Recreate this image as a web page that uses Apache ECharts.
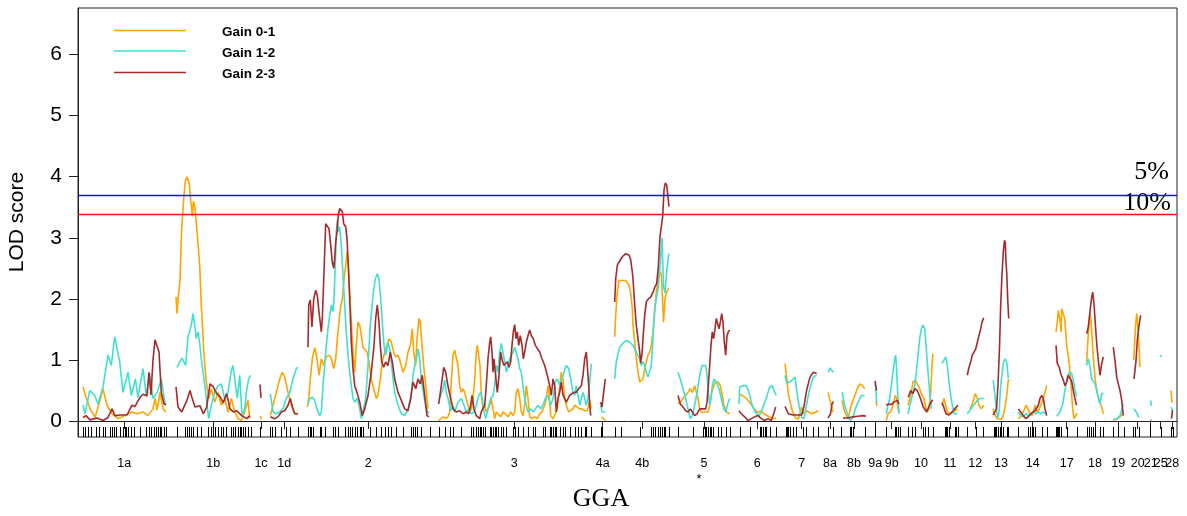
<!DOCTYPE html>
<html>
<head>
<meta charset="utf-8">
<script src="https://cdn.jsdelivr.net/npm/echarts@6/dist/echarts.min.js"></script>
<style>
  html, body { margin: 0; padding: 0; background: #fff; }
  #chart { width: 1187px; height: 516px; }
</style>
</head>
<body>
<div id="chart"></div>
<script>
// Chromosome labels (GGA) and their mid positions on the genome-wide axis
const chromNames = ['1a','1b','1c','1d','2','3','4a','4b','5','6','7','8a','8b','9a','9b','10','11','12','13','14','17','18','19','20','21','25','28'];
const chromPos = [46.3,135.3,183,206.3,290.3,436.3,524.7,564.3,626,679.3,723.7,752,776,797.3,813.7,843,872,897.3,923,954.7,988.7,1017,1040.3,1059.7,1072.7,1082.7,1094.3];
const X_MAX = 1099;

// LOD axis ticks
const lodTicks = [0, 1, 2, 3, 4, 5, 6];

// Genome-wide significance thresholds
const thresholdValues = [3.70, 3.39];
const thresholdNames = ['5%', '10%'];

// Marker positions (rug)
const markerPos = [5,7.3,10,12.7,18.3,20.7,25,27.3,32.3,34.3,35.7,38.3,41.7,45,46.7,48.3,50,53.3,56,61.7,68.3,70.7,73.3,76,78.3,80,82,83.3,86,88.3,
99,107.3,109.3,111,113.3,115,119.3,122.7,130,132.7,135,136.7,140,142.7,145,148.3,152.7,155,156.7,160,161.7,163.3,165,166.7,170,172.7,
181.7,
192.3,194.3,196.7,203.3,207.7,211.7,220,
230,231.7,233.3,235,241.7,243.3,246.7,255,256.7,260,266.7,270,272.3,274.3,276.7,279,281.7,283.3,285,292.3,298.3,303.3,306.7,310,313.3,318.3,325,333.3,335,336.7,339,343.3,351.7,
360.7,366.7,371.7,375,383.3,393.3,395,398.3,400,401.7,403.3,405,406.7,411.7,413.3,415,416.7,418.3,420,423.3,425,428.3,435,436.7,440,445,450,455,457.3,465,466.7,471.7,473.3,475,476.7,478.3,481.7,485,486.7,491.7,496.7,500,503.3,506.7,508.3,513.3,
522.7,524,
536.7,543.3,561.7,573.3,575,576.7,580,581.7,584.3,585.7,586.7,591,
600,615,625,626.7,628.3,630,631.7,633.3,635,640,643.3,648.3,651.7,
661.7,671.7,681.7,683.3,685,686.7,688.3,691.7,697.7,
707.7,709,710,711.7,715,718.3,725,728.3,735,740,
750,755,763.3,771.7,773.3,775,787.3,797.3,
808.3,816.7,818.3,820,821.7,
830,834,836.7,845,846.7,850,855,
866.7,868.3,869.3,870.7,876.7,878.3,880,
889.3,898.3,905,
916,917.3,918.3,920,921.7,923.3,925.3,928.7,930.3,
940.3,950.3,952,953.7,954.7,957,963.7,968.7,
978,979.3,980.3,981.3,982.7,988.7,999.3,
1009.3,1011.3,1012.7,1014.7,1017,1022,1025.3,
1034.7,1040.3,1046,
1055.3,1057,1061.3,
1072,1082.7,1092.7,1094.7];

// LOD profiles, one segment per chromosome: [position, LOD]
const gain01 = [
 [[5,0.56],[8,0.39],[12,0.2],[17,0.06],[22,0.34],[25,0.53],[29,0.26],[34,0.12],[40,0.04],[47,0.09],[54,0.15],[59,0.12],[65,0.15],[70,0.09],[75,0.2],[77,0.37],[79,0.18],[82,0.47],[85,0.2],[88,0.15]],
 [[98,2.03],[99,1.76],[100,2.0],[102,2.3],[103.5,3.1],[106,3.7],[107.3,3.92],[108.7,4.0],[110,3.97],[111.3,3.89],[112.7,3.59],[113.5,3.52],[114.3,3.35],[115.5,3.6],[116.7,3.52],[118,3.3],[119.5,3.0],[121.7,2.55],[123.3,1.9],[126,1.08],[128.3,0.64],[130.7,0.37],[133.3,0.53],[136.7,0.31],[140,0.47],[143.3,0.26],[146.7,0.37],[150,0.15],[153.3,0.37],[156.7,0.15],[160,0.04],[163.3,0.01],[166.7,0.15],[170,0.34],[171.7,0.04]],
 [[182.5,0.08],[183,0.03]],
 [[192.3,0.09],[195,0.26],[198.3,0.47],[201.7,0.69],[204.3,0.8],[206.7,0.72],[210,0.47],[213.3,0.26],[216.7,0.12],[220,0.12]],
 [[229.3,0.23],[230.7,0.37],[232.3,0.69],[234.3,1.02],[236.7,1.2],[239,1.02],[241,0.75],[243.3,1.02],[245.7,0.91],[248.3,1.05],[251,1.08],[253.3,1.02],[255.7,0.86],[257.7,1.02],[260,1.46],[262.3,1.84],[264.3,2.0],[266,2.33],[267.7,2.55],[269,2.77],[270.3,2.55],[271.7,2.11],[273.3,1.62],[275,1.13],[276.7,0.8],[278.3,1.24],[280,1.62],[281.7,1.57],[283.3,1.4],[285,1.21],[286.7,1.24],[289,1.13],[291,0.97],[293.3,0.69],[295.7,0.53],[298.3,0.37],[300,0.42],[302.3,0.69],[304.3,0.97],[306.7,1.13],[309,1.24],[311,1.35],[313.3,1.29],[315.7,1.13],[317.7,1.05],[320,1.08],[322.3,0.97],[325,0.8],[327.7,0.91],[330,1.13],[332.3,1.24],[334.3,1.51],[335.7,1.13],[337.7,0.91],[339,1.35],[341,1.68],[342.3,1.62],[344,1.24],[345.7,0.91],[347.7,0.58],[350,0.2]],
 [[360.7,0.01],[365,0.07],[367.7,0.04],[370,0.07],[371.7,0.15],[373.3,0.64],[375,1.08],[376.7,1.16],[378.3,1.13],[380,0.91],[381.7,0.58],[383.3,0.47],[385,0.53],[386.7,0.47],[388.3,0.37],[390,0.26],[391.7,0.15],[393.3,0.2],[395,0.37],[396.7,0.69],[398.3,1.13],[399.3,1.24],[400.7,1.21],[402,0.91],[403.3,0.42],[405,0.2],[406.7,0.26],[408.3,0.15],[410,0.12],[411.7,0.26],[413.3,0.37],[415,0.2],[416.7,0.04],[418.3,0.15],[420,0.12],[422.7,0.07],[425,0.15],[427.3,0.12],[430,0.07],[432.7,0.15],[435,0.09],[436.7,0.15],[438.3,0.47],[440,0.53],[441.7,0.37],[443.3,0.15],[445,0.09],[446.7,0.26],[448.3,0.58],[450,0.37],[451.7,0.07],[454,0.04],[456.7,0.07],[459.3,0.04],[461.7,0.12],[464,0.15],[466.7,0.26],[468.3,0.37],[470,0.58],[471,0.47],[472.7,0.09],[475,0.04],[477.3,0.12],[479.3,0.2],[481.7,0.58],[483.3,0.8],[485,0.69],[486.7,0.37],[488.3,0.26],[490.7,0.15],[492.7,0.12],[495,0.2],[496.7,0.26],[499.3,0.23],[501.7,0.2],[504,0.2],[506.7,0.17],[509.3,0.17],[511.7,0.34],[513.3,0.2]],
 [[523.5,0.07],[525.5,0.04],[527.5,0.01]],
 [[536.7,1.38],[537.7,1.73],[539.3,2.11],[541,2.3],[542.7,2.33],[544.3,2.3],[546,2.3],[547.7,2.3],[549.3,2.28],[551,2.22],[552.7,2.09],[554.3,1.84],[555,1.57],[556.7,1.3],[558.3,1.02],[560,0.8],[561.7,0.64],[563.3,0.61],[565,0.69],[566.7,0.86],[568.3,0.97],[570,1.08],[571.7,1.13],[573.3,1.24],[575,1.46],[576.7,1.79],[578.3,2.11],[580,2.3],[581.7,2.45],[583.3,2.4],[584.5,2.0],[585.5,1.62],[587,2.0],[588.3,2.1],[589.7,2.15],[591,2.17]],
 [[600,0.28],[602.3,0.31],[605,0.37],[607.7,0.42],[610,0.47],[612.3,0.53],[614.3,0.47],[616.7,0.58],[618.3,0.58],[620,0.37],[621.7,0.2],[623.3,0.15],[625,0.12],[626.7,0.15],[628.3,0.12],[630,0.15],[631.7,0.26],[633.7,0.47],[635.7,0.58],[637.7,0.64],[640,0.64],[642.3,0.58],[644.3,0.42],[646,0.26],[648.3,0.15],[651.7,0.12]],
 [[661,0.45],[664,0.42],[668,0.38],[672,0.3],[676,0.2],[680,0.14],[683,0.16],[686,0.12],[690,0.08],[694,0.05],[698,0.04]],
 [[707,0.94],[708.7,0.72],[710.3,0.45],[713.7,0.2],[717,0.06],[720.3,0.03],[723.7,0.23],[726,0.12],[728.7,0.17],[733.7,0.12],[737,0.14],[740.3,0.17]],
 [[750,0.47],[751.7,0.36],[753.3,0.26],[755,0.15]],
 [[764,0.34],[766.7,0.15],[770,0.04],[773.3,0.26],[776.7,0.42],[779.3,0.53],[781.7,0.61],[784.3,0.58],[786.7,0.53]],
 [[798,0.32],[799,0.25]],
 [[808.3,0.01],[810,0.12],[812.7,0.15],[815,0.26],[817.3,0.42],[818.7,0.37],[820,0.2],[821,0.15]],
 [[830,0.26],[832.7,0.42],[835,0.64],[837.3,0.67],[839.3,0.61],[841.7,0.53],[844,0.42],[846,0.37],[847.3,0.26],[849.3,0.15],[851,0.2],[852.7,0.47],[854,0.91],[855,1.1]],
 [[864,0.26],[866,0.37],[867.7,0.26],[869.3,0.15],[871.7,0.12],[874,0.15],[876.7,0.17],[879.3,0.2]],
 [[891.7,0.2],[894,0.26],[896,0.37],[897.3,0.45],[898.3,0.47],[899.3,0.37],[901,0.26],[903.3,0.2],[905.7,0.26]],
 [[915,0.2],[917,0.1],[919,0.04],[921,0.02],[923,0.03],[925,0.08],[927,0.22],[929,0.45],[930.3,0.68],[931,0.65]],
 [[940.3,0.04],[942.7,0.07],[945.3,0.15],[948,0.26],[949.7,0.28],[951.3,0.15],[953.7,0.09],[955.3,0.15],[957,0.26],[958.7,0.15],[961.3,0.2],[963.7,0.31],[965.3,0.37],[967,0.47],[968.7,0.58]],
 [[978,1.46],[979.3,1.62],[980.3,1.81],[981.3,1.84],[982.3,1.62],[983,1.46],[983.7,1.84],[984.7,1.87],[985.7,1.84],[986.7,1.68],[987.7,1.46],[988.7,1.24],[989.7,1.13],[990.7,1.02],[991.7,0.86],[992.7,0.69],[993.7,0.42],[994.7,0.2],[996,0.04],[997.3,0.04],[998.7,0.12],[999.7,0.12]],
 [[1008.7,0.97],[1010.3,1.43],[1012,1.76],[1013,1.65],[1014,1.37],[1015.3,1.05],[1017,0.72],[1018.7,0.5],[1020.3,0.39],[1022,0.31],[1023.7,0.23],[1025.3,0.12]],
 [[1035,0.02],[1038.7,0.03],[1042,0.07],[1044.7,0.12]],
 [[1055.7,1.0],[1056.7,1.3],[1057.7,1.6],[1058.7,1.76],[1059.3,1.79],[1060.3,1.45],[1061.3,1.1],[1062,0.88]],
 [[1093,0.5],[1094,0.3]]
];

const gain12 = [
 [[5,0.26],[7,0.12],[11.7,0.5],[16.7,0.42],[20,0.28],[25,0.56],[30,1.08],[33.3,0.91],[36.7,1.38],[39.5,1.15],[41.7,0.97],[45,0.47],[50,0.8],[53.3,0.42],[57.3,0.69],[60,0.39],[65,0.86],[68.3,0.42],[71.7,0.78],[75,0.37],[79.3,0.47],[83.3,0.69],[87.3,0.26]],
 [[99,0.88],[100,0.91],[101.7,0.97],[104,1.03],[106,1.0],[107.7,0.91],[110,1.38],[111.7,1.35],[113.3,1.57],[115,1.76],[116.7,1.57],[118.3,1.35],[120,1.46],[121.7,1.27],[123.3,1.02],[126,0.69],[128.3,0.37],[130.7,0.04],[133.3,0.26],[136.7,0.47],[140,0.58],[143.3,0.61],[146.7,0.37],[150,0.47],[153.3,0.83],[155,0.91],[156.7,0.69],[159.3,0.37],[161.7,0.75],[164,0.09],[166.7,0.2],[168.3,0.47],[170.7,0.69],[172.7,0.75]],
 [[192.3,0.45],[195,0.15],[198.3,0.12],[201.7,0.15],[205,0.2],[208.3,0.37],[211.7,0.47],[215,0.69],[218.3,0.86],[220,0.88]],
 [[230,0.28],[231.7,0.37],[234.3,0.39],[236.7,0.34],[239,0.2],[241.7,0.09],[243.3,0.15],[245,0.58],[246.7,0.91],[248.3,1.24],[250,1.51],[251.7,1.73],[253.3,1.9],[255,1.79],[256,2.0],[257.3,2.55],[258.3,3.1],[259.3,3.29],[260.3,3.1],[261.7,3.18],[263.3,2.88],[265,2.39],[266.7,1.9],[268.3,1.46],[270,1.08],[271.7,0.8],[273.3,0.58],[275,0.37],[276.7,0.31],[279,0.37],[281,0.26],[283.3,0.04],[285,0.07],[287.7,0.37],[290,0.91],[292.3,1.57],[295,2.06],[297.3,2.33],[299.3,2.41],[301,2.33],[302.7,2.0],[304.3,1.62],[306,1.24],[307.7,1.08],[310,1.29],[312.3,1.13],[314.3,0.8],[316.7,0.47],[320,0.26],[323.3,0.12],[326.7,0.09],[330,0.2],[332.7,0.37],[335,0.75],[336.7,0.91],[338.3,1.02],[340,1.18],[341.7,1.02],[343.3,0.69],[345.7,0.42],[348.3,0.2],[351,0.12]],
 [[361.7,0.37],[365,0.53],[366.7,0.67],[368.3,0.47],[370,0.37],[372.7,0.17],[375,0.26],[376.7,0.15],[380,0.31],[383.3,0.37],[386,0.26],[388.3,0.15],[390.7,0.2],[393.3,0.12],[396,0.15],[398.3,0.26],[400.7,0.42],[402.7,0.47],[404.3,0.37],[406,0.15],[407.7,0.04],[409.3,0.07],[411,0.26],[412.7,0.37],[415,0.42],[416.7,0.58],[418.3,0.91],[420,0.8],[421.7,1.13],[423.3,1.27],[425,1.13],[426.7,0.97],[428.3,0.8],[430,0.91],[431.7,1.02],[433.3,1.05],[435,1.13],[436.7,1.21],[438.3,1.24],[440,1.02],[441.7,0.86],[443.3,0.8],[445,0.58],[446.7,0.37],[448.3,0.26],[450,0.15],[452.7,0.2],[455,0.15],[457.3,0.2],[460,0.26],[462.7,0.2],[465,0.26],[467.3,0.37],[470,0.42],[472.7,0.26],[475,0.37],[477.3,0.64],[479.3,0.69],[481.7,0.58],[484,0.69],[486,0.8],[488.3,0.91],[490.7,0.86],[492.7,0.69],[495,0.47],[496.7,0.42],[498.3,0.58],[500,0.42],[501.7,0.26],[503.3,0.37],[505,0.47],[506.7,0.37],[508.3,0.26],[510,0.37],[511.7,0.64],[513.3,0.94]],
 [[522.7,0.26],[524,0.15],[526,0.12],[527.3,0.15]],
 [[536.7,0.69],[538.3,0.97],[540,1.1],[541.7,1.21],[543.3,1.24],[546,1.29],[548.3,1.32],[550,1.32],[551.7,1.29],[553.3,1.27],[555,1.24],[556.7,1.18],[558.3,1.13],[561.7,1.02],[563.3,0.91],[565,0.97],[566.7,0.91],[568.3,0.8],[570,0.72],[571.7,0.75],[573.3,0.91],[575,1.35],[576.7,1.85],[578.3,2.0],[580.3,2.2],[582.3,2.6],[584,3.0],[585.5,2.2],[587,2.1],[588.7,2.45],[590.7,2.74]],
 [[600,0.8],[602.3,0.69],[605,0.53],[607.7,0.37],[610,0.2],[612.3,0.04],[614.3,0.09],[616.7,0.26],[619,0.47],[621.7,0.75],[624,0.91],[626,0.94],[627.7,0.91],[629,0.75],[630.3,0.47],[631.7,0.26],[633,0.37],[634.3,0.58],[636,0.69],[638.3,0.64],[641,0.53],[643.3,0.37],[645.7,0.2],[647.7,0.15],[649.3,0.26],[651.7,0.37]],
 [[661,0.28],[661.7,0.56],[665,0.58],[668.3,0.58],[671,0.47],[673.3,0.31],[675.7,0.2],[678.3,0.12],[681,0.09],[683.3,0.15],[685.7,0.26],[688.3,0.37],[690,0.47],[691.7,0.56],[694.3,0.58],[696.7,0.47],[698.3,0.42]],
 [[707,0.75],[708.7,0.62],[710.3,0.64],[712,0.64],[714,0.66],[717,0.72],[718.7,0.5],[721.3,0.23],[723.7,0.06],[726,0.04],[728.7,0.28],[731.3,0.5],[733.7,0.64],[735.3,0.72],[738.7,0.75]],
 [[750.3,0.8],[752,0.87],[753.7,0.84],[755.3,0.8]],
 [[764,0.47],[766.7,0.26],[770,0.09],[772.3,0.01],[775,0.06],[777.3,0.2],[780,0.31],[783.3,0.42],[786.7,0.42]],
 [[797.3,0.62],[798.7,0.3]],
 [[808.3,0.12],[810,0.26],[811.7,0.37],[813.3,0.58],[815,0.8],[816.7,1.02],[817.7,1.08],[818.7,0.8],[820,0.37],[821,0.12]],
 [[830,0.12],[832.7,0.31],[835,0.47],[836.7,0.58],[838.3,0.8],[840,1.08],[841.7,1.35],[843.3,1.51],[845,1.57],[846.7,1.51],[848.3,1.18],[850,0.8],[851.7,0.47],[853.3,0.2]],
 [[864,0.94],[866,0.97],[867.7,1.05],[869.3,0.91],[871,0.64],[872.7,0.42],[874.3,0.26],[876,0.12],[877.7,0.15],[879.3,0.12]],
 [[889.3,0.12],[891.7,0.17],[894,0.23],[896.7,0.28],[899.3,0.34],[901.7,0.37],[903.3,0.39],[905.7,0.37]],
 [[915.3,0.67],[917,0.4],[918.7,0.15],[920,0.05],[921.3,0.2],[922.5,0.55],[923.7,0.72],[925.3,0.94],[927,1.02],[928.7,0.97],[930.3,0.7]],
 [[940.3,0.15],[942.7,0.09],[945.3,0.07],[948,0.12],[950.3,0.09],[952.7,0.12],[955.3,0.15],[958,0.12],[960.3,0.15],[962.7,0.12],[965.3,0.15],[968,0.12]],
 [[978.7,0.08],[982,0.15],[984.7,0.28],[987,0.51],[989.3,0.72],[991.3,0.8],[993.7,0.78],[995.3,0.67],[997,0.51],[998.7,0.4]],
 [[1008.7,0.91],[1010.3,1.02],[1012,0.89],[1013.7,0.69],[1015.3,0.66],[1017,0.61],[1018.7,0.5],[1020.3,0.39],[1022,0.28],[1023.7,0.45],[1025.3,0.45]],
 [[1035,0.03],[1038.7,0.03],[1042,0.09],[1045.3,0.28]],
 [[1055.7,0.2],[1058.3,0.15],[1060.7,0.06]],
 [[1072.7,0.34],[1073.3,0.25]],
 [[1082.7,1.08],[1083.3,1.05]],
 [[1093,0.23],[1094.5,0.18]]
];

const gain23 = [
 [[5,0.06],[8,0.09],[12,0.02],[19,0.05],[25,0.01],[30,0.06],[34,0.2],[37,0.09],[42,0.1],[49,0.1],[54,0.26],[57,0.24],[62,0.39],[65,0.44],[69,0.41],[71,0.8],[73,0.43],[75,1.0],[77,1.33],[79,1.35],[81,1.13],[83.3,0.47],[86,0.28],[88.3,0.27]],
 [[98,0.56],[100,0.23],[103.7,0.15],[108.7,0.33],[112,0.5],[113.7,0.4],[117,0.23],[122,0.25],[125.3,0.12],[128.7,0.23],[132,0.61],[135.3,0.56],[138.7,0.45],[142,0.4],[145.3,0.3],[148.7,0.45],[152,0.2],[155.3,0.15],[158.7,0.17],[163.7,0.09],[168.7,0.04],[172,0.09]],
 [[182,0.6],[183,0.38]],
 [[192.3,0.07],[196.7,0.04],[200,0.07],[203.3,0.15],[206.7,0.17],[210,0.26],[212.3,0.37],[214.3,0.24],[216.7,0.12],[220,0.12]],
 [[230,1.21],[230.7,1.9],[232.3,1.98],[234,1.54],[235.7,2.0],[237.7,2.14],[239.3,2.06],[241,1.79],[243.3,1.46],[244.3,1.68],[246,2.44],[247.7,3.23],[249.3,3.26],[251,3.15],[252.7,2.88],[254.3,2.6],[255.7,2.5],[256.7,2.66],[257.7,2.93],[259,3.1],[260.3,3.37],[261.7,3.48],[263,3.51],[264.3,3.43],[265.7,3.23],[267.7,3.18],[269,2.99],[270.3,2.55],[271.7,2.0],[273.3,1.29],[275,0.86],[276.7,0.58],[279,0.47],[281.7,0.31],[284.3,0.09],[286.7,0.2],[290,0.42],[293.3,0.8],[296,1.24],[297.7,1.68],[299.3,1.9],[301,1.62],[302.3,1.24],[303.7,0.97],[305.7,0.88],[307.7,0.97],[310,0.91],[312.3,1.13],[314.3,0.97],[316.7,0.69],[320,0.47],[323.3,0.34],[326.7,0.2],[330,0.17],[332.7,0.37],[335,0.64],[337.7,0.53],[340,0.69],[342.3,0.61],[344.3,0.75],[346.7,0.42],[349,0.09],[351,0.07]],
 [[360.7,0.28],[363.3,0.58],[365.7,0.88],[367.7,0.8],[370,0.57],[372.7,0.37],[375,0.2],[378.3,0.15],[381.7,0.17],[385,0.12],[388.3,0.15],[390.7,0.12],[392.7,0.26],[394,0.42],[396,0.2],[398.3,0.09],[401.7,0.04],[403.3,0.15],[405,0.12],[406.7,0.26],[408.3,0.58],[410,1.02],[411.7,1.29],[412.7,1.38],[414,1.13],[415,0.8],[416,1.02],[417.3,0.8],[419.3,0.47],[420.7,0.69],[422.7,1.13],[424.3,0.99],[426,0.91],[427.7,0.91],[429.3,0.97],[431,0.88],[432.7,0.97],[434,1.24],[435.3,1.46],[436.7,1.58],[438,1.35],[439.3,1.46],[440.7,1.24],[442.3,1.4],[444,1.24],[445.3,1.02],[446.7,1.13],[448.3,1.29],[450,1.4],[451.7,1.49],[453.3,1.4],[455.3,1.35],[457.3,1.24],[459.3,1.21],[461.7,1.13],[464,1.02],[466.7,0.91],[469.3,0.75],[471.7,0.58],[473.3,0.42],[475,0.69],[476.7,0.58],[478.3,0.15],[480,0.37],[481.7,0.47],[483.3,0.64],[485,0.42],[486.7,0.37],[488.3,0.31],[490,0.28],[491.7,0.42],[493.3,0.42],[496,0.47],[498.3,0.47],[500.7,0.53],[503.3,0.58],[505,0.75],[506.7,1.02],[508.3,1.13],[509.3,0.91],[510.7,0.58],[511.7,0.26],[512.7,0.09]],
 [[522.7,0.31],[524,0.23],[525.5,0.45],[527.3,0.69]],
 [[536.7,1.95],[537.7,2.33],[539.3,2.55],[541,2.6],[542.7,2.58],[544.3,2.69],[546,2.72],[547.7,2.74],[549.3,2.76],[551,2.72],[552.7,2.64],[554.3,2.44],[555,2.33],[556.7,1.9],[558.3,1.57],[560,1.35],[561.7,1.13],[562.7,0.95],[564,1.1],[565,1.35],[566.7,1.73],[568.3,1.95],[570.3,2.0],[572.7,2.03],[575.3,2.12],[577,2.2],[578.7,2.25],[580.3,2.52],[582,3.02],[583.7,3.05],[584.7,3.35],[586,3.78],[587.3,3.9],[588.7,3.86],[590,3.67],[591,3.51]],
 [[600,0.42],[602.3,0.28],[605,0.23],[607.7,0.17],[610,0.15],[612.3,0.2],[614.3,0.15],[616.7,0.09],[619,0.12],[621.7,0.2],[624,0.2],[625.7,0.17],[627.7,0.2],[629,0.31],[630.3,0.58],[631.7,0.91],[633,1.24],[634.3,1.46],[635.7,1.35],[637,1.51],[638.3,1.68],[640,1.7],[641,1.51],[642.3,1.62],[643.7,1.76],[645,1.62],[646.3,1.29],[647.7,1.08],[649,1.4],[650.3,1.46],[651.7,1.49]],
 [[661,0.17],[663.3,0.12],[666.7,0.07],[670,0.01],[673.3,0.04],[676.7,0.07],[680,0.09],[683.3,0.04],[686.7,0.01],[690,0.04],[693.3,0.01],[695.7,0.12],[697.7,0.23]],
 [[707,0.24],[710.3,0.12],[715.3,0.1],[720.3,0.1],[723.7,0.1],[726,0.24],[728.7,0.51],[732,0.72],[735.3,0.8],[738.7,0.78]],
 [[750,0.05],[752.5,0.12],[754,0.28],[755.5,0.32]],
 [[765,0.05],[770,0.05],[775,0.07],[780,0.08],[785,0.09],[788,0.08]],
 [[797,0.66],[798.5,0.5]],
 [[808.3,0.26],[810.7,0.28],[813.3,0.27],[816,0.31],[817.7,0.28],[819.3,0.34],[821,0.28]],
 [[830.3,0.39],[832.7,0.5],[834.7,0.45],[837,0.53],[839.3,0.5],[842,0.39],[845.3,0.23],[848.7,0.15],[852,0.28],[854.7,0.35]],
 [[864,0.3],[866,0.22],[868,0.12],[870.7,0.1],[873.7,0.14],[876.7,0.2],[880,0.26]],
 [[889.3,0.75],[890.7,0.86],[892.7,0.97],[894.3,1.08],[896,1.13],[897.7,1.18],[899.3,1.21],[901,1.4],[902.7,1.51],[904,1.62],[905.7,1.69]],
 [[915,0.1],[917,0.08],[918.5,0.2],[920,0.6],[921.5,1.2],[922.7,1.9],[924,2.4],[925.3,2.77],[926.5,2.96],[927.3,2.92],[928,2.6],[928.7,2.44],[929.7,2.0],[930.7,1.68]],
 [[940.3,0.2],[942.7,0.15],[945.3,0.09],[948,0.04],[950.3,0.07],[952.7,0.12],[954.7,0.09],[957,0.17],[958.7,0.15],[960.3,0.26],[962,0.37],[963.7,0.42],[965.3,0.37],[967,0.2],[968.7,0.09]],
 [[978,1.24],[979.3,0.94],[981.3,0.88],[982.7,0.78],[984.7,0.7],[987,0.58],[988.7,0.64],[990.3,0.75],[992,0.72],[993.7,0.65],[995.3,0.5],[997,0.36],[998.7,0.26]],
 [[1008.7,1.43],[1010.3,1.54],[1012,1.8],[1013.7,2.03],[1014.7,2.11],[1016,1.92],[1017.3,1.6],[1018.7,1.27],[1020.3,1.0],[1022,0.75],[1023.7,0.94],[1025.3,1.05]],
 [[1035.3,1.21],[1037,0.99],[1038.7,0.72],[1040.3,0.61],[1042,0.5],[1043.7,0.34],[1045.3,0.09]],
 [[1056,0.69],[1058,0.99],[1059.3,1.32],[1061.3,1.6],[1062.7,1.73]],
 [[1072.7,0.02],[1073.3,0.01]],
 [[1093.5,0.04],[1094.5,0.18]]
];

const seriesNames = ['Gain 0-1', 'Gain 1-2', 'Gain 2-3'];
const seriesColors = ['#FFA500', '#40E0D0', '#A52A2A'];

// Join chromosome segments, leaving a gap between chromosomes
function joinSegments(segs) {
  const out = [];
  segs.forEach(function (seg, i) {
    if (i > 0) out.push(['-', '-']);
    seg.forEach(function (p) { out.push(p); });
  });
  return out;
}

function chromLabel(v) {
  if (v >= X_MAX) return '';
  let best = 0, bestD = Infinity;
  chromPos.forEach(function (p, i) {
    const d = Math.abs(p - v);
    if (d < bestD) { bestD = d; best = i; }
  });
  return chromNames[best];
}

// Chromosome ticks plus a blank end stop at the axis maximum, which is dropped
// as the "max label" so every chromosome label stays visible.
const chromAxisValues = chromPos.concat([X_MAX]);

const SANS = "'Liberation Sans', Arial, Helvetica, sans-serif";
const SERIF = "'Liberation Serif', 'Times New Roman', serif";
const AXIS_COLOR = '#222';
const RUG_LOW = -0.26, RUG_HIGH = -0.096;

const chart = echarts.init(document.getElementById('chart'), null, { renderer: 'canvas' });

const profiles = [gain01, gain12, gain23].map(function (segs, i) {
  const s = {
    name: seriesNames[i],
    type: 'line',
    data: joinSegments(segs),
    symbol: 'none',
    showSymbol: false,
    connectNulls: false,
    smooth: false,
    silent: true,
    z: 2 + i,
    lineStyle: { color: seriesColors[i], width: 1.6 }
  };
  if (i === 0) {
    s.markLine = {
      silent: true,
      symbol: ['none', 'none'],
      label: { show: false },
      animation: false,
      data: [
        { yAxis: thresholdValues[0], lineStyle: { color: '#1010ff', width: 1.3, type: 'solid' } },
        { yAxis: thresholdValues[1], lineStyle: { color: '#ff1010', width: 1.3, type: 'solid' } }
      ]
    };
  }
  return s;
});

const rug = {
  name: 'markers',
  type: 'custom',
  silent: true,
  z: 1,
  clip: false,
  data: markerPos.map(function (v) { return [v, 0]; }),
  encode: { x: 0, y: 1 },
  renderItem: function (params, api) {
    const x = api.value(0);
    const a = api.coord([x, RUG_LOW]);
    const b = api.coord([x, RUG_HIGH]);
    const px = Math.round(a[0]) + 0.5;
    return {
      type: 'line',
      shape: { x1: px, y1: a[1], x2: px, y2: b[1] },
      style: { stroke: '#000', lineWidth: 1 }
    };
  }
};

// Legend drawn as line swatches with bold labels
const legendGraphics = [];
const legendY = [30.5, 51, 72.5];
seriesNames.forEach(function (name, i) {
  legendGraphics.push({
    type: 'line', silent: true,
    shape: { x1: 114, y1: legendY[i], x2: 186, y2: legendY[i] },
    style: { stroke: seriesColors[i], lineWidth: 1.3 }
  });
  legendGraphics.push({
    type: 'text', silent: true, x: 222, y: legendY[i] + 1.8,
    style: { text: name, fill: '#000', font: 'bold 13.5px ' + SANS, textAlign: 'left', textVerticalAlign: 'middle' }
  });
});

chart.setOption({
  animation: false,
  backgroundColor: '#fff',
  grid: {
    left: 78, right: 10, top: 8, bottom: 79,
    show: true, borderColor: AXIS_COLOR, borderWidth: 1, containLabel: false
  },
  xAxis: {
    type: 'value', min: 0, max: X_MAX,
    axisLine: { show: true, lineStyle: { color: AXIS_COLOR, width: 1 } },
    axisTick: { show: true, length: 8, customValues: chromAxisValues, lineStyle: { color: AXIS_COLOR, width: 1 } },
    axisLabel: {
      show: true, customValues: chromAxisValues, formatter: chromLabel,
      showMinLabel: true, showMaxLabel: false,
      fontSize: 12.5, fontFamily: SANS, color: '#000', margin: 20, hideOverlap: false
    },
    splitLine: { show: false }
  },
  yAxis: {
    type: 'value', min: -0.26, max: 6.76,
    axisLine: { show: true, lineStyle: { color: AXIS_COLOR, width: 1 } },
    axisTick: { show: true, length: 9, customValues: lodTicks, lineStyle: { color: AXIS_COLOR, width: 1 } },
    axisLabel: {
      show: true, customValues: lodTicks,
      showMinLabel: true, showMaxLabel: true,
      fontSize: 21, fontFamily: SANS, color: '#000', margin: 16,
      padding: [5, 0, 0, 0]
    },
    splitLine: { show: false }
  },
  graphic: legendGraphics.concat([
    {
      type: 'text', silent: true, x: 17.5, y: 222, rotation: Math.PI / 2,
      style: { text: 'LOD score', fill: '#000', font: '21px ' + SANS, textAlign: 'center', textVerticalAlign: 'middle' }
    },
    {
      type: 'text', silent: true, x: 601, y: 499.5,
      style: { text: 'GGA', fill: '#000', font: '26px ' + SERIF, textAlign: 'center', textVerticalAlign: 'middle' }
    },
    {
      type: 'text', silent: true, x: 1169, y: 172,
      style: { text: thresholdNames[0], fill: '#000', font: '26px ' + SERIF, textAlign: 'right', textVerticalAlign: 'middle' }
    },
    {
      type: 'text', silent: true, x: 1171, y: 203.5,
      style: { text: thresholdNames[1], fill: '#000', font: '26px ' + SERIF, textAlign: 'right', textVerticalAlign: 'middle' }
    },
    {
      type: 'text', silent: true, x: 699, y: 479,
      style: { text: '*', fill: '#000', font: '13px ' + SANS, textAlign: 'center', textVerticalAlign: 'middle' }
    }
  ]),
  series: profiles.concat([rug])
});
</script>
</body>
</html>
